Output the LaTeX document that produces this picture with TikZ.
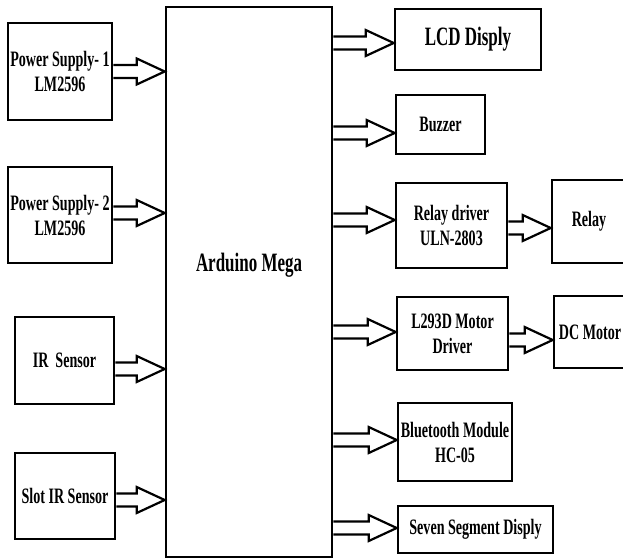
\documentclass[tikz,border=0pt]{standalone}
\usepackage{fontspec}
\setmainfont{Liberation Serif}[FakeStretch=0.64]
\usetikzlibrary{calc}
\tikzset{
  blk/.style={draw, line width=2.6pt, inner sep=0pt, align=center,
    font=\fontsize{22}{25}\selectfont\bfseries},
  bigtxt/.style={font=\fontsize{26.5}{30}\selectfont\bfseries},
  % flecha hueca; la altura la da el origen
  barrow/.style={draw, line width=2.2pt, to path={
    let \p1=(\tikztostart), \p2=(\tikztotarget) in
    (\x1,\y1+6.5pt) -- (\x2-28pt,\y1+6.5pt) -- (\x2-28pt,\y1+13pt) -- (\x2,\y1)
    -- (\x2-28pt,\y1-13pt) -- (\x2-28pt,\y1-6.5pt) -- (\x1,\y1-6.5pt)}},
  % igual, pero la altura la da el destino
  barrowr/.style={draw, line width=2.2pt, to path={
    let \p1=(\tikztostart), \p2=(\tikztotarget) in
    (\x1,\y2+6.5pt) -- (\x2-28pt,\y2+6.5pt) -- (\x2-28pt,\y2+13pt) -- (\x2,\y2)
    -- (\x2-28pt,\y2-13pt) -- (\x2-28pt,\y2-6.5pt) -- (\x1,\y2-6.5pt)}}
}
\begin{document}
\begin{tikzpicture}[x=1pt, y=-1pt]
    \useasboundingbox (0,0) rectangle (623,559);
    % bloque central
    \node[blk, minimum width=166pt, minimum height=550pt,
      label={[bigtxt, yshift=17pt]center:Arduino Mega}] (mega) at (249,282) {};
    % entradas
    \node[blk, minimum width=104pt, minimum height=97pt] (ps1) at (60,71.5) {Power Supply- 1\\LM2596};
    \node[blk, minimum width=104pt, minimum height=96pt] (ps2) at (60,215) {Power Supply- 2\\LM2596};
    \node[blk, minimum width=99pt, minimum height=87pt] (ir) at (64.5,360.5) {IR~ Sensor};
    \node[blk, minimum width=100pt, minimum height=86pt] (slot) at (65,496) {Slot IR Sensor};
    % salidas
    \node[blk, bigtxt, minimum width=146pt, minimum height=61pt] (lcd) at (468,39.5) {LCD Disply};
    \node[blk, minimum width=89pt, minimum height=59pt] (buzz) at (440.5,124.5) {Buzzer};
    \node[blk, minimum width=111pt, minimum height=85pt] (rdrv) at (451.5,225.5) {Relay driver\\ULN-2803};
    \node[blk, minimum width=74pt, minimum height=83pt] (relay) at (589,221.5) {Relay};
    \node[blk, minimum width=111pt, minimum height=73pt] (motdrv) at (452.5,333.5) {L293D Motor\\Driver};
    \node[blk, minimum width=72pt, minimum height=72pt] (dcm) at (590,332) {DC Motor};
    \node[blk, minimum width=114pt, minimum height=78pt] (bt) at (455,442) {Bluetooth Module\\HC-05};
    \node[blk, minimum width=155pt, minimum height=47pt] (seg) at (475.5,529.5) {Seven Segment Disply};
    % flechas
    \foreach \n/\dy in {ps1/0, ps2/2, ir/-8.5, slot/-4}
        \draw[barrow] ([yshift=\dy pt]\n.east) to (mega.west);
    \foreach \n/\dy in {lcd/-3.5, buzz/-8.5, rdrv/5.5, motdrv/1.5, bt/2, seg/1.5}
        \draw[barrowr] (mega.east) to ([yshift=\dy pt]\n.west);
    \draw[barrow] ([yshift=-2.5pt]rdrv.east) to (relay.west);
    \draw[barrow] ([yshift=-6.5pt]motdrv.east) to (dcm.west);
\end{tikzpicture}
\end{document}
